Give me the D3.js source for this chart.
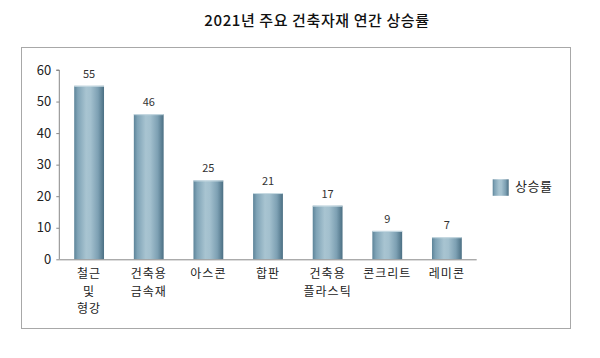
<!DOCTYPE html>
<html><head><meta charset="utf-8">
<script src="https://cdn.jsdelivr.net/npm/d3@7"></script>
<style>body{margin:0;background:#fff}svg{display:block}text{font-family:"Noto Sans CJK KR","Noto Sans",sans-serif}</style>
</head><body>
<script>
const categories = [["철근","및","형강"],["건축용","금속재"],["아스콘"],["합판"],["건축용","플라스틱"],["콘크리트"],["레미콘"]];
const values = [55,46,25,21,17,9,7];
const yTicks = [0,10,20,30,40,50,60];
const seriesName = "상승률";
const title = "2021년 주요 건축자재 연간 상승률";

const W=600,H=358;
const svg=d3.select("body").append("svg").attr("width",W).attr("height",H);
const defs=svg.append("defs");
const g1=defs.append("linearGradient").attr("id","bar").attr("x1","0").attr("x2","1").attr("y1","0").attr("y2","0");
[[0,"#5d8499"],[0.12,"#7fa3b6"],[0.4,"#a8c4d1"],[0.55,"#a3c0ce"],[0.8,"#7da0b3"],[1,"#4b6f83"]].forEach(([o,c])=>g1.append("stop").attr("offset",o).attr("stop-color",c));

svg.append("text").attr("x",317).attr("y",26).attr("text-anchor","middle").attr("font-size",15).attr("font-weight",500).attr("letter-spacing",0.6).attr("fill","#111").text(title);
svg.append("rect").attr("x",21.5).attr("y",47.5).attr("width",549).attr("height",281).attr("fill","none").attr("stroke","#a8a8a8");

const x=d3.scaleBand().domain(d3.range(categories.length)).range([59.3,476.7]).paddingInner(0.5).paddingOuter(0.25);
const y=d3.scaleLinear().domain([0,60]).range([259.3,70]);

const ax=svg.append("g").attr("transform","translate(59.3,0)").call(d3.axisLeft(y).tickValues(yTicks).tickSize(3).tickPadding(5));
ax.select(".domain").attr("stroke","#888").attr("d","M-3,"+y(60)+"H0V"+y(0));
ax.selectAll(".tick line").attr("stroke","#888");
ax.selectAll(".tick text").attr("font-size",13).attr("fill","#222").attr("font-family","'Noto Sans',sans-serif");

svg.selectAll("rect.bar").data(values).join("rect").attr("class","bar")
 .attr("x",(d,i)=>x(i)).attr("width",x.bandwidth()).attr("y",d=>y(d)).attr("height",d=>y(0)-y(d)).attr("fill","url(#bar)");
svg.selectAll("line.cap").data(values).join("line").attr("class","cap")
 .attr("x1",(d,i)=>x(i)).attr("x2",(d,i)=>x(i)+x.bandwidth()).attr("y1",d=>y(d)+0.5).attr("y2",d=>y(d)+0.5).attr("stroke","#c9dbe3");

svg.append("line").attr("x1",59.3).attr("x2",476.7).attr("y1",y(0)+0.5).attr("y2",y(0)+0.5).attr("stroke","#888");

svg.selectAll("text.val").data(values).join("text").attr("class","val")
 .attr("x",(d,i)=>x(i)+x.bandwidth()/2).attr("y",d=>y(d)-8).attr("text-anchor","middle")
 .attr("font-size",11).attr("fill","#333").attr("font-family","'Noto Sans',sans-serif").text(d=>d);

const lines=[];
categories.forEach((d,i)=>d.forEach((s,j)=>lines.push({i,j,s})));
svg.selectAll("text.cat").data(lines).join("text").attr("class","cat")
 .attr("x",d=>x(d.i)+x.bandwidth()/2).attr("y",d=>278+d.j*17.5).attr("text-anchor","middle")
 .attr("font-size",12).attr("letter-spacing",1).attr("fill","#222").text(d=>d.s);

svg.append("rect").attr("x",492.7).attr("y",179.3).attr("width",16).attr("height",16.5).attr("fill","url(#bar)");
svg.append("text").attr("x",515).attr("y",191).attr("font-size",13).attr("letter-spacing",0.5).attr("fill","#222").text(seriesName);
</script>
</body></html>
